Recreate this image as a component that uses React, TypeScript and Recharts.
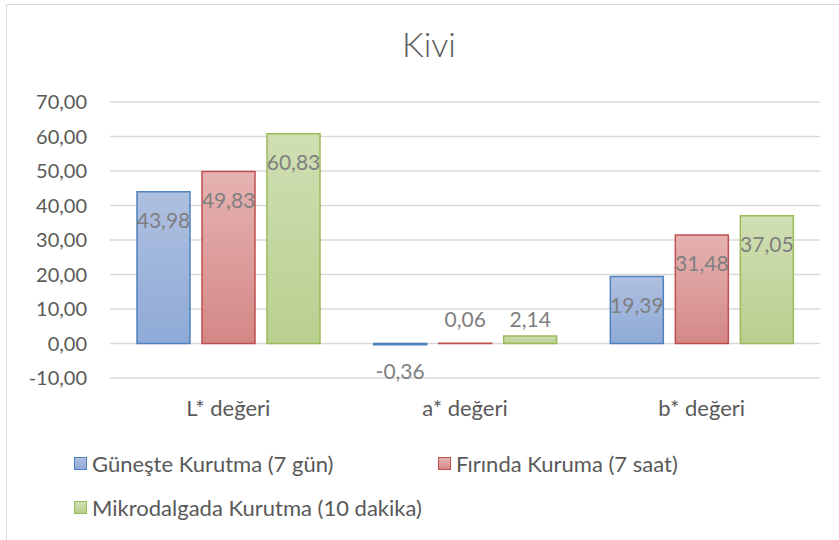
import { FC } from "react";
import { BarChart, Bar, XAxis, YAxis, CartesianGrid, LabelList } from "recharts";

const categories: string[] = ["L* değeri", "a* değeri", "b* değeri"];
const seriesNames: string[] = [
  "Güneşte Kurutma (7 gün)",
  "Fırında Kuruma (7 saat)",
  "Mikrodalgada Kurutma (10 dakika)",
];
const gunesValues: number[] = [43.98, -0.36, 19.39];
const firinValues: number[] = [49.83, 0.06, 31.48];
const mikroValues: number[] = [60.83, 2.14, 37.05];
const yTicks: number[] = [-10, 0, 10, 20, 30, 40, 50, 60, 70];

const FONT = "Lato, 'Noto Sans', sans-serif";

const colors = [
  { id: "gBlue", stroke: "#4f81bd", top: "#afc0e0", bottom: "#8eaad7" },
  { id: "gRed", stroke: "#c0504d", top: "#e5b3b2", bottom: "#d48886" },
  { id: "gGreen", stroke: "#9bbb59", top: "#d0dfb4", bottom: "#b9cf8e" },
];

const data = categories.map((c, i) => ({
  name: c,
  s0: gunesValues[i],
  s1: firinValues[i],
  s2: mikroValues[i],
}));

const fmt = (v: number) => v.toFixed(2).replace(".", ",");

// labels sit inside the top of tall bars, above/below the zero line for tiny ones
const renderLabel = (props: any) => {
  const { x, y, width, height, value } = props;
  const top = Math.min(y, y + height);
  const bottom = Math.max(y, y + height);
  let cy: number;
  if (Math.abs(value) < 5) {
    cy = value >= 0 ? bottom - 25 : top + 27;
  } else {
    cy = top + 28;
  }
  return (
    <text
      x={x + width / 2}
      y={cy}
      textAnchor="middle"
      dominantBaseline="central"
      fill="#7f7f7f"
      fontSize={21}
      fontFamily={FONT}
    >
      {fmt(value)}
    </text>
  );
};

const legendPos = [
  { left: 74, top: 456 },
  { left: 438, top: 456 },
  { left: 74, top: 500 },
];

const App: FC = () => {
  return (
    <div style={{ position: "absolute", left: 0, top: 0, width: 839, height: 540, overflow: "hidden", background: "#fff" }}>
      <div style={{ position: "absolute", left: 6, top: 4, width: 860, height: 580, border: "1px solid #d9d9d9" }} />
      <div style={{ position: "absolute", left: 0, top: 0 }}>
        <BarChart
          width={839}
          height={540}
          data={data}
          margin={{ top: 102, right: 19, left: 0, bottom: 122 }}
          barGap={12}
        >
          <defs>
            {colors.map((c) => (
              <linearGradient key={c.id} id={c.id} x1="0" y1="0" x2="0" y2="1">
                <stop offset="0%" stopColor={c.top} />
                <stop offset="100%" stopColor={c.bottom} />
              </linearGradient>
            ))}
          </defs>
          <CartesianGrid vertical={false} stroke="#d9d9d9" strokeWidth={1.3} />
          <XAxis
            dataKey="name"
            axisLine={false}
            tickLine={false}
            tickSize={0}
            tickMargin={22}
            height={40}
            tick={{ fill: "#595959", fontSize: 22, fontFamily: FONT }}
          />
          <YAxis
            domain={[-10, 70]}
            ticks={yTicks}
            axisLine={false}
            tickLine={false}
            tickSize={0}
            tickMargin={23}
            width={110}
            tickFormatter={fmt}
            tick={{ fill: "#595959", fontSize: 20, fontFamily: FONT }}
          />
          {["s0", "s1", "s2"].map((k, i) => (
            <Bar
              key={k}
              dataKey={k}
              name={seriesNames[i]}
              fill={`url(#${colors[i].id})`}
              stroke={colors[i].stroke}
              strokeWidth={1.5}
              barSize={53}
              isAnimationActive={false}
            >
              <LabelList dataKey={k} content={renderLabel} />
            </Bar>
          ))}
        </BarChart>
      </div>
      <div
        style={{
          position: "absolute",
          left: 0,
          width: 858,
          top: 24,
          textAlign: "center",
          fontFamily: FONT,
          fontSize: 34,
          fontWeight: 300,
          color: "#595959",
          lineHeight: "40px",
        }}
      >
        Kivi
      </div>
      {seriesNames.map((n, i) => (
        <div
          key={n}
          style={{
            position: "absolute",
            left: legendPos[i].left,
            top: legendPos[i].top,
            display: "flex",
            alignItems: "center",
            fontFamily: FONT,
            fontSize: 22,
            color: "#595959",
            height: 14,
            whiteSpace: "nowrap",
          }}
        >
          <span
            style={{
              display: "inline-block",
              width: 11,
              height: 11,
              background: `linear-gradient(${colors[i].top}, ${colors[i].bottom})`,
              border: `1.5px solid ${colors[i].stroke}`,
              marginRight: 5,
            }}
          />
          <span>{n}</span>
        </div>
      ))}
    </div>
  );
};

export default App;
